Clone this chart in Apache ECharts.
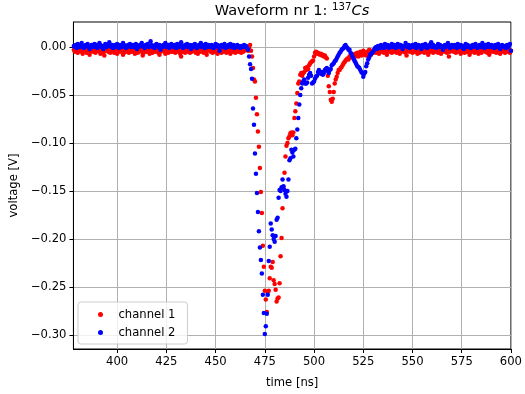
<!DOCTYPE html>
<html>
<head>
<meta charset="utf-8">
<script src="https://cdn.jsdelivr.net/npm/echarts@6/dist/echarts.min.js"></script>
<style>html,body{margin:0;padding:0;background:#fff}#c{width:525px;height:394px}</style>
</head>
<body>
<div id="c"></div>
<script>
// Digitizer sampling (ns)
const sampleStart = 378.0;
const sampleStep = 0.5;

// Channel 1 (red), millivolts
const ch1Pre = [
-3,-5,-2,-4,-6,-3,-1,-4,-5,-7,-3,-2,-4,-6,-4,-3,-8,-5,-2,-4,
-5,-3,-6,-4,-2,-1,-5,-7,-4,-3,-6,-9,-4,-2,-3,-5,-4,-6,-3,-1,
-4,-6,-5,-3,-7,-4,-2,-5,-3,-4,-8,-6,-3,-5,-2,-4,-6,-4,-3,-5,
-2,-4,-7,-5,-3,-6,-4,-1,-3,-5,-9,-6,-4,-3,-5,-2,-4,-7,-5,-3,
-6,-4,-3,-5,-2,-4,-6,-8,-5,-3,-4,-2,-5,-7,-4,-3,-6,-4,-1,-5,
-3,-5,-4,-6,-3,-2,-5,-4,-7,-10,-5,-3,-4,-6,-2,-4,-5,-3,-6,-4,
-5,-2,-4,-3,-6,-5,-7,-4,-3,-5,-4,-2,-6,-3,-5,-8,-4,-3,-2,-5,
-4,-6,-3,-5,-4,-2,-7,-5,-3,-4,-6,-3,-5,-2,-4,-6,-5,-3,-4,-7,
-3,-5,-4,-2,-6,-4,-3,-5,-1,-4,-6,-3,-5,-4,-2,-3
];
const ch1Pulse = [
-2,-4,-1,2,-4,-10,-22,-34,-36,-53,
-70,-88,-104,-126,-151,-173,-207,-229,-254,-263,
-276,-255,-254,-241,-229,-230,-224,-243,-247,-253,
-265,-262,-261,-246,-218,-199,-168,-147,-131,-114,
-103,-100,-95,-93,-90,-89,-92,-89,-74,-67,
-59,-48,-38,-36,-29,-27,-30,-27,-26,-22,
-24,-21,-23,-19,-17,-16,-15,-14,-10,-6,
-5,-7,-6,-7,-8,-7,-9,-8,-10,-9,
-11,-12,-30,-41,-47,-55,-57,-54,-47,-38,
-34,-31,-27,-24,-24,-22,-21,-19,-17,-16,
-14,-13,-12,-13,-10,-11,-9,-10,-8,-11,
-7,-9,-6,-10,-8,-5,-9,-7,-4,-8,
-6,-9,-5,-7,-3,-6,-8,-4,-6
];
const ch1Post = [
-5,-3,-6,-2,-4,-7,-3,-5,-1,-4,-6,-3,-5,-8,-4,-2,-5,-3,-6,-4,
-3,-5,-2,-6,-4,-3,-7,-5,-4,-2,-5,-3,-6,-9,-4,-3,-5,-2,-4,-6,
-4,-2,-5,-3,-7,-4,-6,-3,-5,-1,-4,-6,-3,-5,-4,-8,-3,-5,-2,-4,
-6,-3,-4,-5,-2,-6,-4,-3,-7,-5,-4,-2,-5,-3,-6,-4,-10,-5,-3,-4,
-2,-5,-4,-6,-3,-5,-2,-4,-7,-3,-5,-4,-6,-2,-3,-5,-4,-8,-3,-5,
-4,-3,-6,-2,-5,-4,-7,-3,-5,-6,-2,-4,-3,-5,-4,-6,-3,-8,-5,-4,
-3,-5,-2,-4,-6,-3,-5,-4,-7,-2,-4,-5,-3,-6,-4,-2,-5,-3,-6,-4
];

// Channel 2 (blue), millivolts
const ch2Pre = [
1,0,2,-1,3,1,0,2,4,1,-1,0,2,1,3,0,-2,1,2,0,
1,3,0,2,-1,1,4,2,0,1,-2,1,3,0,2,1,5,1,0,2,
-1,1,2,0,3,1,-1,2,1,0,4,2,1,-1,0,2,1,3,0,1,
2,0,1,3,-2,1,0,2,1,4,1,0,-1,2,1,3,0,1,6,2,
0,1,-1,2,3,1,0,2,-3,1,0,2,1,4,0,1,2,-1,1,3,
1,0,2,1,-1,3,2,0,1,5,1,-1,0,2,1,3,0,1,2,-2,
1,2,0,3,1,-1,0,2,1,4,0,1,2,-1,3,1,0,2,1,0,
2,1,-1,0,3,1,2,0,-4,1,2,0,1,3,-1,1,0,2,1,3,
0,1,2,-1,1,0,2,1,0,-1,1,0,1,2,0,1
];
const ch2Pulse = [
-1,-3,-10,-18,-23,-33,-64,-81,-111,-132,
-152,-172,-192,-209,-222,-236,-258,-277,-299,-291,
-278,-258,-223,-208,-184,-190,-196,-200,-203,-197,
-180,-178,-157,-149,-150,-146,-138,-145,-149,-153,
-156,-150,-138,-118,-116,-107,-110,-114,-107,-106,
-95,-86,-74,-60,-50,-43,-38,-36,-34,-38,
-38,-37,-32,-29,-27,-30,-38,-37,-36,-33,
-31,-30,-26,-24,-27,-28,-26,-29,-27,-24,
-23,-22,-25,-27,-24,-23,-19,-18,-17,-15,
-14,-12,-10,-8,-6,-5,-3,-2,-1,1,
2,0,-1,-3,-3,-6,-7,-10,-12,-14,
-16,-18,-20,-21,-22,-24,-26,-27,-31,-28,
-26,-20,-17,-13,-11,-8,-7,-6,-5
];
const ch2Post = [
-3,-1,0,-2,1,0,-1,2,0,1,-1,3,0,1,2,-1,0,1,3,0,
1,2,-1,0,3,1,0,2,1,-2,0,1,4,1,0,2,-1,1,0,2,
1,0,3,-1,1,2,0,1,-2,2,1,0,3,1,-1,0,2,1,5,0,
2,1,0,-1,1,3,0,2,1,0,-3,1,2,0,1,4,1,-1,0,2,
1,0,2,1,-1,3,0,1,2,0,1,-2,1,3,0,2,1,0,-1,1,
2,0,1,3,1,-1,0,2,1,0,4,1,-1,2,0,1,3,0,1,2,
0,1,-1,2,1,0,3,1,-2,0,2,1,0,1,-1,2,0,1,3,-4
];

// Axis ticks
const xTicks = [400, 425, 450, 475, 500, 525, 550, 575, 600];
const yTicks = [-0.30, -0.25, -0.20, -0.15, -0.10, -0.05, 0.00];
const xRange = [377.8, 600];
const yRange = [-0.3146, 0.026];

const seriesNames = ['channel 1', 'channel 2'];
const seriesColors = ['#ff0000', '#0000ff'];

function toPoints(mv) {
  return mv.map((v, i) => [sampleStart + i * sampleStep, v / 1000]);
}
const ch1 = toPoints(ch1Pre.concat(ch1Pulse, ch1Post));
const ch2 = toPoints(ch2Pre.concat(ch2Pulse, ch2Post));

const FONT = 'DejaVu Sans';
const chart = echarts.init(document.getElementById('c'), null, {renderer: 'canvas'});
chart.setOption({
  animation: false,
  backgroundColor: '#ffffff',
  textStyle: {fontFamily: FONT},
  grid: {left: 73, top: 22, width: 440, height: 327, show: true, borderColor: '#000', borderWidth: 1, backgroundColor: 'transparent'},
  graphic: [{
    type: 'text', x: 292, y: 11,
    style: {
      text: '{a|Waveform nr 1: }{s|137}{i|Cs}',
      align: 'center', verticalAlign: 'middle',
      rich: {
        a: {fontFamily: FONT, fontSize: 14.6, fill: '#000', lineHeight: 17},
        s: {fontFamily: FONT, fontSize: 10.2, fill: '#000', verticalAlign: 'top', lineHeight: 10},
        i: {fontFamily: FONT, fontSize: 14.6, fontStyle: 'italic', fill: '#000', lineHeight: 17}
      }
    }
  }],
  legend: {
    orient: 'vertical', left: 78, top: 302,
    data: seriesNames.map(n => ({name: n, icon: 'circle'})),
    itemWidth: 26, itemHeight: 5, itemGap: 5,
    padding: [6, 12, 5, 20],
    backgroundColor: 'rgba(255,255,255,0.8)', borderColor: '#cccccc', borderWidth: 1, borderRadius: 3,
    textStyle: {fontFamily: FONT, fontSize: 11.6, color: '#000', lineHeight: 13}
  },
  xAxis: {
    type: 'value', min: xRange[0], max: xRange[1],
    name: 'time [ns]', nameLocation: 'middle', nameGap: 28,
    nameTextStyle: {fontFamily: FONT, fontSize: 11.6, color: '#000'},
    axisLine: {show: true, onZero: false, lineStyle: {color: '#000', width: 1}},
    axisTick: {show: true, length: 4, lineStyle: {color: '#000'}, customValues: xTicks},
    axisLabel: {customValues: xTicks, margin: 7, fontFamily: FONT, fontSize: 11.6, color: '#000', formatter: v => String(Math.round(v))},
    splitLine: {show: true, lineStyle: {color: '#b0b0b0', width: 1}}
  },
  yAxis: {
    type: 'value', min: yRange[0], max: yRange[1],
    name: 'voltage [V]', nameLocation: 'middle', nameGap: 50, nameRotate: 90,
    nameTextStyle: {fontFamily: FONT, fontSize: 11.6, color: '#000'},
    axisLine: {show: true, onZero: false, lineStyle: {color: '#000', width: 1}},
    axisTick: {show: true, length: 4, lineStyle: {color: '#000'}, customValues: yTicks},
    axisLabel: {customValues: yTicks, margin: 7, fontFamily: FONT, fontSize: 11.6, color: '#000',
      formatter: v => (v < -1e-9 ? '\u2212' : '') + Math.abs(v).toFixed(2)},
    splitLine: {show: true, lineStyle: {color: '#b0b0b0', width: 1}}
  },
  series: [
    {name: seriesNames[0], type: 'scatter', data: ch1, symbol: 'circle', symbolSize: 4.5, itemStyle: {color: seriesColors[0], opacity: 1}},
    {name: seriesNames[1], type: 'scatter', data: ch2, symbol: 'circle', symbolSize: 4.5, itemStyle: {color: seriesColors[1], opacity: 1}}
  ]
});
</script>
</body>
</html>
